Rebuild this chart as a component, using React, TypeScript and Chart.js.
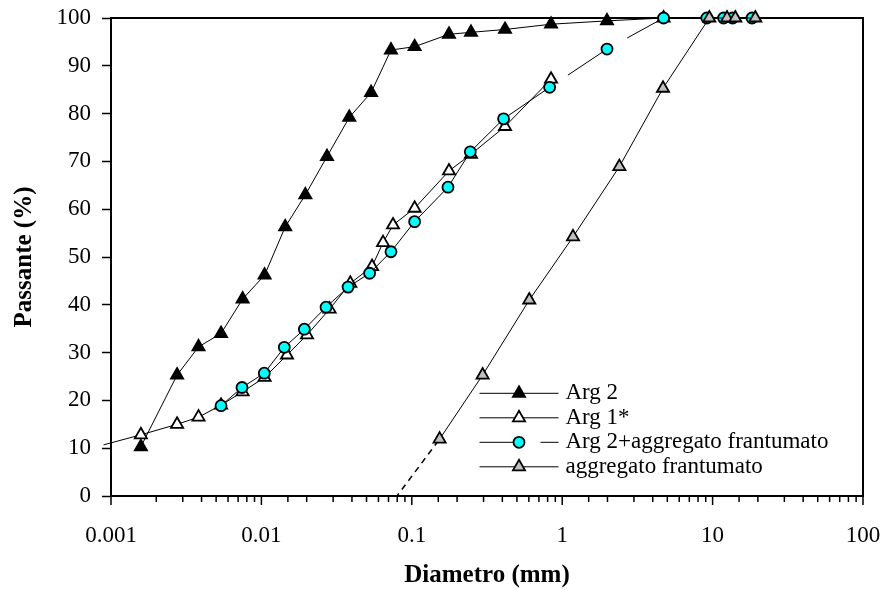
import React, { useEffect, useRef } from 'react';
import { Chart, registerables } from 'chart.js';

Chart.register(...registerables);

// ---- Data (diameter in mm, passing %) ----
const arg2X = [0.00158, 0.00275, 0.00382, 0.00539, 0.0075, 0.0105, 0.0144, 0.0196, 0.0273, 0.0384, 0.0536, 0.0727, 0.1044, 0.1767, 0.2475, 0.4167, 0.843, 1.986, 4.72];
const arg2Y = [10.3, 25.3, 31.2, 34.0, 41.2, 46.2, 56.3, 63.0, 71.0, 79.2, 84.4, 93.3, 94.0, 96.6, 97.0, 97.6, 98.7, 99.4, 100];

const arg1X = [0.000893, 0.00158, 0.00275, 0.00382, 0.00539, 0.0075, 0.0105, 0.0148, 0.0201, 0.0284, 0.039, 0.0544, 0.0644, 0.075, 0.1044, 0.1767, 0.2475, 0.4167, 0.843];
const arg1Y = [10.7, 12.8, 15.0, 16.5, 19.0, 21.8, 24.8, 29.5, 33.7, 39.1, 44.5, 48.0, 53.0, 56.7, 60.2, 68.0, 71.5, 77.3, 87.2];

const mixX = [0.00539, 0.00743, 0.01045, 0.0142, 0.0193, 0.0269, 0.0377, 0.0524, 0.0727, 0.1044, 0.174, 0.2448, 0.4076, 0.8247, 1.986, 4.72, 9.15, 11.83, 13.58, 18.28];
const mixY = [18.9, 22.7, 25.7, 31.1, 34.9, 39.5, 43.7, 46.6, 51.1, 57.4, 64.6, 72.0, 78.9, 85.5, 93.5, 100, 100, 100, 100, 100];

const aggX = [0.1531, 0.2957, 0.604, 1.18, 2.399, 4.68, 9.51, 12.47, 14.16, 19.23];
const aggY = [11.9, 25.3, 41.0, 54.2, 68.9, 85.3, 100, 100, 100, 100];

const extrapX = [0.1531, 0.0797];
const extrapY = [11.9, 0];

const seriesNames = ['Arg 2', 'Arg 1*', 'Arg 2+aggregato frantumato', 'aggregato frantumato'];
const xAxisTitle = 'Diametro (mm)';
const yAxisTitle = 'Passante (%)';

const toPoints = (xs: number[], ys: number[]) => xs.map((x, i) => ({ x, y: ys[i] }));

const FONT = "'Liberation Serif', 'Times New Roman', serif";

function drawMarker(ctx: CanvasRenderingContext2D, style: string, x: number, y: number, r: number, fill: string) {
  ctx.beginPath();
  if (style === 'triangle') {
    let rad = 0;
    ctx.moveTo(x + Math.sin(rad) * r, y - Math.cos(rad) * r);
    rad += (2 * Math.PI) / 3;
    ctx.lineTo(x + Math.sin(rad) * r, y - Math.cos(rad) * r);
    rad += (2 * Math.PI) / 3;
    ctx.lineTo(x + Math.sin(rad) * r, y - Math.cos(rad) * r);
    ctx.closePath();
  } else {
    ctx.arc(x, y, r, 0, Math.PI * 2);
  }
  ctx.fillStyle = fill;
  ctx.fill();
  ctx.lineWidth = 1.8;
  ctx.strokeStyle = '#000';
  ctx.setLineDash([]);
  ctx.stroke();
}

const legendStyles = [
  { style: 'triangle', fill: '#000000', r: 7, dash: [] as number[] },
  { style: 'triangle', fill: '#ffffff', r: 7, dash: [] as number[] },
  { style: 'circle', fill: '#00ffff', r: 5.5, dash: [38, 23] },
  { style: 'triangle', fill: '#c0c0c0', r: 7, dash: [] as number[] },
];

const framePlugin = {
  id: 'frameAndLegend',
  beforeDatasetsDraw(chart: any) {
    const { ctx, chartArea: ca, scales } = chart;
    ctx.save();
    ctx.strokeStyle = '#000';
    ctx.lineWidth = 2;
    ctx.strokeRect(ca.left, ca.top, ca.right - ca.left, ca.bottom - ca.top);
    const xs = scales.x;
    ctx.lineWidth = 1.5;
    xs.ticks.forEach((t: any) => {
      const v = t.value;
      const l = Math.log10(v);
      const major = Math.abs(l - Math.round(l)) < 1e-6;
      const px = xs.getPixelForValue(v);
      ctx.beginPath();
      ctx.moveTo(px, ca.bottom);
      ctx.lineTo(px, ca.bottom + (major ? 9 : 6));
      ctx.stroke();
    });
    ctx.restore();
  },
  afterDatasetsDraw(chart: any) {
    const { ctx, chartArea: ca } = chart;
    ctx.save();
    const x0 = ca.left + 368.5;
    const lineLen = 79;
    const markerX = x0 + 39.5;
    const textX = x0 + 86;
    const y0 = ca.top + 375.3;
    const rowH = 24.5;
    seriesNames.forEach((name, i) => {
      const y = y0 + i * rowH;
      const st = legendStyles[i];
      ctx.strokeStyle = '#000';
      ctx.lineWidth = 1;
      ctx.setLineDash(st.dash);
      ctx.beginPath();
      ctx.moveTo(x0, y);
      ctx.lineTo(x0 + lineLen, y);
      ctx.stroke();
      ctx.setLineDash([]);
      drawMarker(ctx, st.style, markerX, y, st.r, st.fill);
      ctx.fillStyle = '#000';
      ctx.font = `23px ${FONT}`;
      ctx.textAlign = 'left';
      ctx.textBaseline = 'middle';
      ctx.fillText(name, textX, y);
    });
    ctx.restore();
  },
};

export default function App() {
  const canvasRef = useRef<HTMLCanvasElement | null>(null);

  useEffect(() => {
    if (!canvasRef.current) return;
    const chart = new Chart(canvasRef.current, {
      type: 'line',
      data: {
        datasets: [
          {
            label: seriesNames[3],
            data: toPoints(aggX, aggY),
            borderColor: '#000',
            borderWidth: 1,
            pointStyle: 'triangle',
            pointRadius: 7,
            pointBackgroundColor: '#c0c0c0',
            pointBorderColor: '#000',
            pointBorderWidth: 1.8,
            order: 0,
            clip: false,
          },
          {
            label: seriesNames[2],
            data: toPoints(mixX, mixY),
            borderColor: '#000',
            borderWidth: 1,
            pointStyle: 'circle',
            pointRadius: 5.5,
            pointBackgroundColor: '#00ffff',
            pointBorderColor: '#000',
            pointBorderWidth: 1.8,
            order: 1,
            clip: false,
            segment: {
              borderDash: (c: any) => (c.p0DataIndex >= 13 && c.p0DataIndex <= 14 ? [48, 22] : undefined),
              borderDashOffset: (c: any) => (c.p0DataIndex >= 13 && c.p0DataIndex <= 14 ? 48 : undefined),
            },
          },
          {
            label: seriesNames[1],
            data: toPoints(arg1X, arg1Y),
            borderColor: '#000',
            borderWidth: 1,
            pointStyle: 'triangle',
            pointRadius: (c: any) => (c.dataIndex === 0 ? 0 : 7),
            pointBackgroundColor: '#ffffff',
            pointBorderColor: '#000',
            pointBorderWidth: 1.8,
            order: 2,
            clip: false,
          },
          {
            label: seriesNames[0],
            data: toPoints(arg2X, arg2Y),
            borderColor: '#000',
            borderWidth: 1,
            pointStyle: 'triangle',
            pointRadius: 7,
            pointBackgroundColor: '#000000',
            pointBorderColor: '#000',
            pointBorderWidth: 1.8,
            order: 3,
            clip: false,
          },
          {
            label: 'extrapolation',
            data: toPoints(extrapX, extrapY),
            borderColor: '#000',
            borderWidth: 1.5,
            borderDash: [6, 5],
            borderDashOffset: 9,
            pointRadius: 0,
            order: 4,
            clip: false,
          },
        ],
      },
      options: {
        animation: false,
        responsive: true,
        maintainAspectRatio: false,
        layout: { padding: 0 },
        plugins: {
          legend: { display: false },
          tooltip: { enabled: false },
        },
        elements: { line: { tension: 0 } },
        scales: {
          x: {
            type: 'logarithmic',
            min: 0.001,
            max: 100,
            border: { display: false },
            grid: {
              drawOnChartArea: false,
              drawTicks: true,
              tickLength: 9,
              tickColor: 'rgba(0,0,0,0)',
            },
            ticks: {
              autoSkip: false,
              maxRotation: 0,
              minRotation: 0,
              padding: 17,
              color: '#000',
              font: { family: FONT, size: 23 },
              callback: (value: any) => {
                const v = Number(value);
                const l = Math.log10(v);
                return Math.abs(l - Math.round(l)) < 1e-9 ? String(Number(v.toPrecision(1))) : '';
              },
            },
            title: {
              display: true,
              text: xAxisTitle,
              color: '#000',
              font: { family: FONT, size: 25, weight: 'bold', lineHeight: 1 },
              padding: { top: 0, bottom: 1.5 },
            },
            afterFit: (scale: any) => {
              scale.height = 94;
              scale.paddingLeft = 0;
              scale.paddingRight = 22;
              scale.paddingTop = 0;
              scale.paddingBottom = 0;
            },
          },
          y: {
            type: 'linear',
            min: 0,
            max: 100,
            border: { display: false },
            grid: {
              drawOnChartArea: false,
              drawTicks: true,
              tickLength: 9,
              tickColor: '#000',
              tickWidth: 1.5,
            },
            ticks: {
              stepSize: 10,
              padding: 11,
              color: '#000',
              font: { family: FONT, size: 23 },
            },
            title: {
              display: true,
              text: yAxisTitle,
              color: '#000',
              font: { family: FONT, size: 25, weight: 'bold', lineHeight: 1 },
              padding: { top: 12, bottom: 0 },
            },
            afterFit: (scale: any) => {
              scale.width = 111;
              scale.paddingTop = 18;
              scale.paddingBottom = 0;
              scale.paddingLeft = 0;
              scale.paddingRight = 0;
            },
          },
        },
      },
      plugins: [framePlugin],
    } as any);
    return () => chart.destroy();
  }, []);

  return (
    <div style={{ position: 'absolute', left: 0, top: 0, width: 885, height: 590, background: '#fff' }}>
      <canvas ref={canvasRef} />
    </div>
  );
}
